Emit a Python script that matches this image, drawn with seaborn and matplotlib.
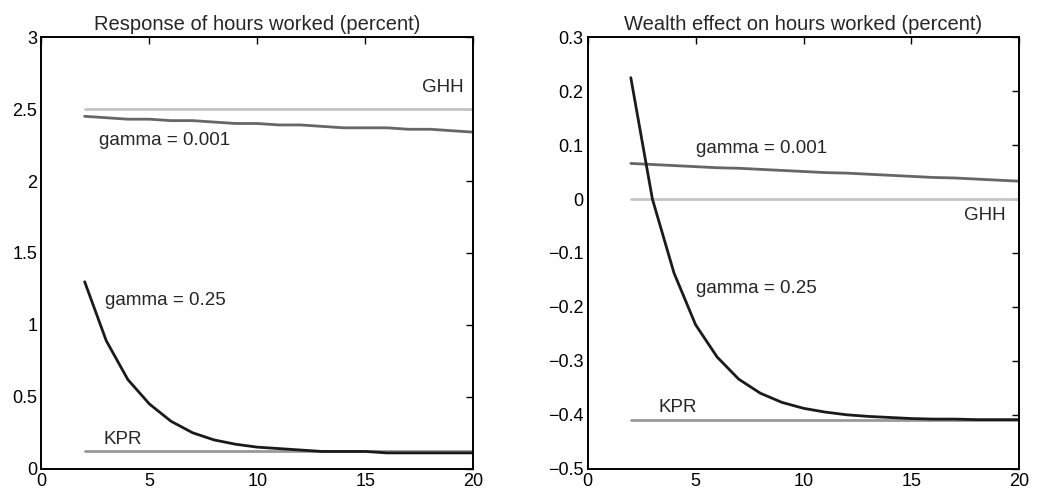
import numpy as np
import pandas as pd
import seaborn as sns
import matplotlib.pyplot as plt

# ------------------------------
# Data
# ------------------------------
periods = list(range(2, 21))

hours_gamma_025 = [1.30, 0.89, 0.62, 0.45, 0.33, 0.25, 0.20, 0.17, 0.15, 0.14,
                   0.13, 0.12, 0.12, 0.12, 0.11, 0.11, 0.11, 0.11, 0.11]
hours_gamma_0001 = [2.45, 2.44, 2.43, 2.43, 2.42, 2.42, 2.41, 2.40, 2.40, 2.39,
                    2.39, 2.38, 2.37, 2.37, 2.37, 2.36, 2.36, 2.35, 2.34]
hours_ghh = [2.50] * len(periods)
hours_kpr = [0.12] * len(periods)

wealth_gamma_025 = [0.225, 0.000, -0.137, -0.233, -0.293, -0.334, -0.360, -0.377,
                    -0.388, -0.395, -0.400, -0.403, -0.405, -0.407, -0.408,
                    -0.408, -0.409, -0.409, -0.409]
wealth_gamma_0001 = [0.066, 0.064, 0.062, 0.060, 0.058, 0.057, 0.055, 0.053,
                     0.051, 0.049, 0.048, 0.046, 0.044, 0.042, 0.040, 0.039,
                     0.037, 0.035, 0.033]
wealth_ghh = [0.0] * len(periods)
wealth_kpr = [-0.41] * len(periods)

colors = {
    "GHH": "#c4c4c4",
    "gamma = 0.001": "#666666",
    "KPR": "#999999",
    "gamma = 0.25": "#1a1a1a",
}


def make_frame(series):
    rows = []
    for name, vals in series.items():
        for t, v in zip(periods, vals):
            rows.append({"period": t, "value": v, "model": name})
    return pd.DataFrame(rows)


hours_df = make_frame({"GHH": hours_ghh, "gamma = 0.001": hours_gamma_0001,
                       "KPR": hours_kpr, "gamma = 0.25": hours_gamma_025})
wealth_df = make_frame({"GHH": wealth_ghh, "gamma = 0.001": wealth_gamma_0001,
                        "KPR": wealth_kpr, "gamma = 0.25": wealth_gamma_025})

sns.set_style("white")
plt.rcParams['font.family'] = ['Liberation Sans', 'DejaVu Sans']

fig, (ax1, ax2) = plt.subplots(1, 2, figsize=(10.37, 4.96), dpi=100)
fig.subplots_adjust(left=0.040, right=0.983, bottom=0.055, top=0.925, wspace=0.265)

for ax, df in [(ax1, hours_df), (ax2, wealth_df)]:
    sns.lineplot(data=df, x="period", y="value", hue="model", palette=colors,
                 linewidth=2.0, legend=False, ax=ax)
    ax.set_xlim(0, 20)
    ax.set_xticks([0, 5, 10, 15, 20])
    ax.set_xlabel("")
    ax.set_ylabel("")
    ax.tick_params(direction="in", top=True, right=True, length=5, width=1,
                   labelsize=13, colors="black", pad=3)
    for s in ax.spines.values():
        s.set_color("black")
        s.set_linewidth(1.4)

ax1.set_ylim(0, 3)
ax1.set_yticks(np.arange(0, 3.01, 0.5))
ax1.set_yticklabels(["0", "0.5", "1", "1.5", "2", "2.5", "3"])
ax1.set_title("Response of hours worked (percent)", fontsize=14.5, pad=5)
ax1.text(18.6, 2.65, "GHH", fontsize=13.5, ha="center", va="center")
ax1.text(2.65, 2.28, "gamma = 0.001", fontsize=13.5, ha="left", va="center")
ax1.text(2.95, 1.17, "gamma = 0.25", fontsize=13.5, ha="left", va="center")
ax1.text(2.85, 0.20, "KPR", fontsize=13.5, ha="left", va="center")

ax2.set_ylim(-0.5, 0.3)
ax2.set_yticks(np.arange(-0.5, 0.31, 0.1))
ax2.set_yticklabels(["\u22120.5", "\u22120.4", "\u22120.3", "\u22120.2", "\u22120.1",
                     "0", "0.1", "0.2", "0.3"])
ax2.set_title("Wealth effect on hours worked (percent)", fontsize=14.5, pad=5)
ax2.text(5.0, 0.094, "gamma = 0.001", fontsize=13.5, ha="left", va="center")
ax2.text(18.4, -0.03, "GHH", fontsize=13.5, ha="center", va="center")
ax2.text(5.0, -0.165, "gamma = 0.25", fontsize=13.5, ha="left", va="center")
ax2.text(3.3, -0.386, "KPR", fontsize=13.5, ha="left", va="center")

plt.savefig("out.png", dpi=100)
plt.close()
